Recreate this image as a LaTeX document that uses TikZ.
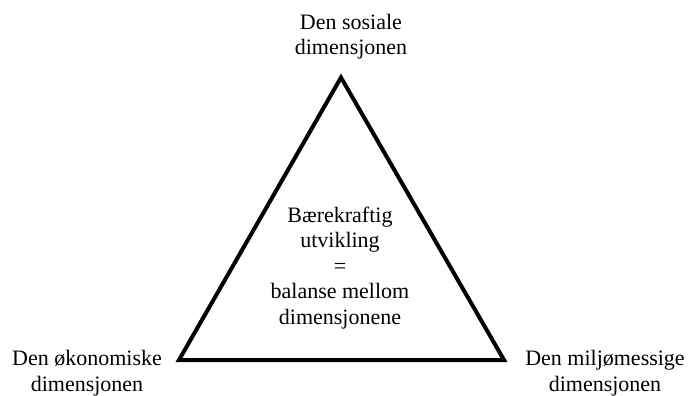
\documentclass[tikz,border=0pt]{standalone}
\usepackage{fontspec}
\setmainfont{Liberation Serif}
\begin{document}
\begin{tikzpicture}[x=1pt,y=-1pt,
  lbl/.style={inner sep=0pt,align=center,font=\fontsize{22}{25.5}\selectfont,anchor=base},
  tri/.style={draw=black,line width=4pt,line join=miter}]
\useasboundingbox (0,0) rectangle (689,396);
\coordinate (A) at (341,77.5);
\coordinate (B) at (179,360);
\coordinate (C) at (504,360);
\draw[tri] (A) -- (B) -- (C) -- cycle;
\node[lbl] (top) at (351,55) {Den sosiale\\dimensjonen};
\node[lbl,font=\fontsize{22}{26.5}\selectfont] (left) at (87,391.5) {Den økonomiske\\dimensjonen};
\node[lbl,font=\fontsize{22}{26.5}\selectfont] (right) at (605,391.5) {Den miljømessige\\dimensjonen};
\node[lbl] (mid) at (340,324) {Bærekraftig\\utvikling\\=\\balanse mellom\\dimensjonene};
\end{tikzpicture}
\end{document}
